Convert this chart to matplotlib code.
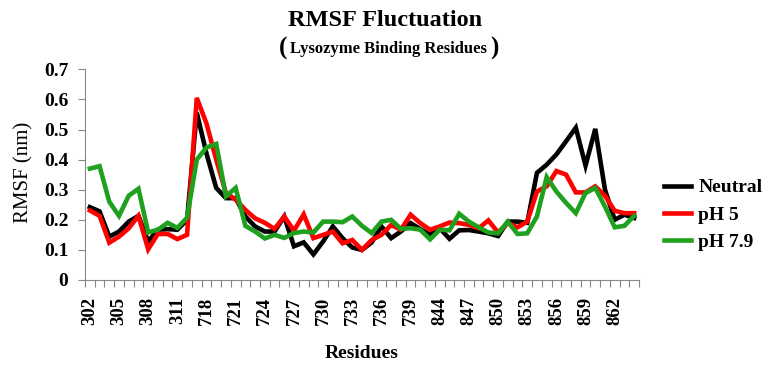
import matplotlib
matplotlib.use("Agg")
import matplotlib.pyplot as plt
import numpy as np

plt.rcParams['font.family'] = ['Liberation Serif', 'DejaVu Serif']

residues = ([str(r) for r in range(302, 313)] + ['717'] +
            [str(r) for r in range(718, 740)] + ['842', '843'] +
            [str(r) for r in range(844, 865)])

neutral = [0.242, 0.228, 0.144, 0.161, 0.194, 0.213, 0.128, 0.167, 0.169, 0.167,
           0.200, 0.556, 0.420, 0.306, 0.272, 0.272, 0.211, 0.178, 0.161, 0.161,
           0.211, 0.112, 0.125, 0.085, 0.128, 0.178, 0.139, 0.108, 0.100, 0.125,
           0.178, 0.139, 0.161, 0.189, 0.169, 0.150, 0.172, 0.137, 0.165, 0.166,
           0.161, 0.155, 0.146, 0.194, 0.194, 0.190, 0.356, 0.383, 0.417, 0.461,
           0.506, 0.380, 0.502, 0.300, 0.200, 0.217, 0.206]

ph5 = [0.231, 0.213, 0.124, 0.144, 0.172, 0.213, 0.102, 0.153, 0.153, 0.136,
       0.150, 0.605, 0.520, 0.400, 0.289, 0.267, 0.233, 0.205, 0.190, 0.170,
       0.211, 0.164, 0.218, 0.139, 0.150, 0.161, 0.122, 0.133, 0.100, 0.133,
       0.150, 0.183, 0.167, 0.217, 0.189, 0.167, 0.178, 0.191, 0.189, 0.183,
       0.172, 0.198, 0.158, 0.189, 0.175, 0.194, 0.294, 0.311, 0.362, 0.350,
       0.291, 0.291, 0.311, 0.280, 0.230, 0.222, 0.222]

ph79 = [0.370, 0.378, 0.260, 0.213, 0.280, 0.303, 0.158, 0.167, 0.190, 0.173,
        0.207, 0.400, 0.440, 0.452, 0.278, 0.306, 0.180, 0.161, 0.138, 0.150,
        0.140, 0.156, 0.161, 0.158, 0.194, 0.194, 0.192, 0.211, 0.180, 0.156,
        0.194, 0.200, 0.170, 0.172, 0.167, 0.135, 0.167, 0.165, 0.220, 0.194,
        0.175, 0.158, 0.155, 0.194, 0.153, 0.155, 0.211, 0.342, 0.294, 0.256,
        0.222, 0.289, 0.306, 0.244, 0.175, 0.180, 0.213]

series_names = ['Neutral', 'pH 5', 'pH 7.9']
series_colors = ['#000000', '#FF0000', '#1FA01F']
yticks = [0, 0.1, 0.2, 0.3, 0.4, 0.5, 0.6, 0.7]
ytick_labels = ['0', '0.1', '0.2', '0.3', '0.4', '0.5', '0.6', '0.7']

W, H = 772, 365
fig = plt.figure(figsize=(W / 100, H / 100), dpi=100)
ax = fig.add_axes([85 / W, 1 - 280 / H, (639 - 85) / W, (280 - 69.3) / H])

x = np.arange(len(residues))
for vals, name, col in zip([neutral, ph5, ph79], series_names, series_colors):
    ax.plot(x, vals, color=col, lw=3.3, label=name, solid_joinstyle='miter')

ax.set_xlim(-0.5, len(residues) - 0.5)
ax.set_ylim(0, 0.7)

# boundaries as major ticks (tick marks), labels as minor ticks
ax.set_xticks(np.arange(-0.5, len(residues), 1.0))
ax.set_xticklabels([])
lab_idx = list(range(0, len(residues), 3))
ax.set_xticks(lab_idx, minor=True)
ax.set_xticklabels([residues[i] for i in lab_idx], minor=True, rotation=90,
                   fontsize=13.5, fontweight='bold')
ax.tick_params(axis='x', which='major', length=5, color='#888888', width=0.8,
               direction='out')
ax.tick_params(axis='x', which='minor', length=0, pad=12)

ax.set_yticks(yticks)
ax.set_yticklabels(ytick_labels, fontsize=14, fontweight='bold')
ax.tick_params(axis='y', length=5, color='#888888', width=0.8, pad=7)

for s in ['top', 'right']:
    ax.spines[s].set_visible(False)
for s in ['left', 'bottom']:
    ax.spines[s].set_color('#888888')
    ax.spines[s].set_linewidth(0.8)

fig.text(24 / W, 1 - 172 / H, 'RMSF (nm)', rotation=90, ha='center', va='center',
         fontsize=15)
fig.text(362 / W, 1 - 354 / H, 'Residues', ha='center', va='center',
         fontsize=14, fontweight='bold')
fig.text(385 / W, 1 - 20 / H, 'RMSF Fluctuation', ha='center', va='center',
         fontsize=17.5, fontweight='bold')
fig.text(388 / W, 1 - 49 / H, 'Lysozyme Binding Residues', ha='center',
         va='center', fontsize=12, fontweight='bold')
fig.text(283 / W, 1 - 48 / H, '(', ha='center', va='center', fontsize=18,
         fontweight='bold')
fig.text(494 / W, 1 - 48 / H, ')', ha='center', va='center', fontsize=18,
         fontweight='bold')

fig.legend(loc='center left', bbox_to_anchor=(646 / W, 1 - 215 / H),
           frameon=False, prop={'size': 14, 'weight': 'bold'},
           handlelength=1.4, handletextpad=0.4, labelspacing=0.5)

fig.savefig('out.png', dpi=100)
